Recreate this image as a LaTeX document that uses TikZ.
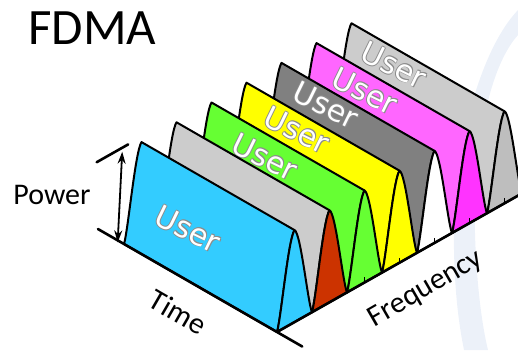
\documentclass[tikz,border=0pt]{standalone}
\usepackage{fontspec}
\setmainfont{Carlito}
\newfontfamily\tagfont{DejaVu Sans}
\usetikzlibrary{arrows.meta}

\definecolor{slabblue}{RGB}{51,204,255}
\definecolor{slabgray}{RGB}{204,204,204}
\definecolor{slabred}{RGB}{204,51,0}
\definecolor{slabgreen}{RGB}{102,255,51}
\definecolor{slabyellow}{RGB}{255,255,0}
\definecolor{slabdark}{RGB}{128,128,128}
\definecolor{slabpink}{RGB}{255,102,255}
\definecolor{slabpinkfront}{RGB}{255,51,255}
\definecolor{slabsilver}{RGB}{190,190,190}
\definecolor{swoosh}{RGB}{236,241,249}

% white lettering with a thin grey rim
\newcommand\halotag[1]{%
  \leavevmode
  \rlap{\color{black!45}\hspace{0.6pt}\raisebox{0.6pt}{#1}}%
  \rlap{\color{black!45}\hspace{-0.6pt}\raisebox{0.6pt}{#1}}%
  \rlap{\color{black!45}\hspace{0.6pt}\raisebox{-0.6pt}{#1}}%
  \rlap{\color{black!45}\hspace{-0.6pt}\raisebox{-0.6pt}{#1}}%
  {\color{white}#1}}

\tikzset{
  slabline/.style={draw=black, line width=2pt, line join=round},
  axisline/.style={line width=2.6pt, line cap=round},
  tickmark/.style={line width=1.4pt},
  usertag/.style={font=\tagfont\fontsize{30}{30}\selectfont, rotate=-26, inner sep=0pt},
  axislabel/.style={font=\fontsize{30}{30}\selectfont, inner sep=0pt},
  powertip/.tip={Stealth[length=12pt,width=8pt]},
  % oblique frame: x = frequency (one band), y = time (front to back), z = power
  iso/.style={shift={(277pt,18pt)}, x={(35pt,19.8pt)}, y={(-153pt,88pt)}, z={(0pt,1pt)}}
}

\begin{document}
\begin{tikzpicture}[x=1pt,y=1pt]
\useasboundingbox (0,0) rectangle (518,350);

% faint background swoosh
\fill[swoosh] (518,340) .. controls (480,300) and (452,200) .. (454,100)
  .. controls (455,50) and (460,20) .. (464,0) -- (488,0)
  .. controls (478,40) and (472,120) .. (476,170)
  .. controls (482,250) and (500,295) .. (518,315) -- cycle;

% one extruded band per user, drawn from the back band to the front band
\foreach \k/\side/\face/\lx/\ly in {
    6/slabgray/slabsilver/394/285,
    5/slabpink/slabpinkfront/365/259,
    4/slabdark/white/326/245,
    3/slabyellow/slabyellow/297/220,
    2/slabgreen/slabgreen/265/193,
    1/slabgray/slabred/0/0,
    0/slabblue/slabblue/188/121}{
  \begin{scope}[iso]
    % rising flank, swept along time
    \filldraw[slabline, fill=\side]
      (\k,0,0) .. controls ({\k+0.12},0,12) and ({\k+0.32},0,86) .. ({\k+0.5},0,92)
      -- ({\k+0.5},1,92)
      .. controls ({\k+0.32},1,86) and ({\k+0.12},1,12) .. (\k,1,0) -- cycle;
    % front cross-section
    \filldraw[slabline, fill=\face]
      (\k,0,0) .. controls ({\k+0.12},0,12) and ({\k+0.32},0,86) .. ({\k+0.5},0,92)
      .. controls ({\k+0.68},0,86) and ({\k+0.88},0,12) .. ({\k+1},0,0) -- cycle;
  \end{scope}
  \ifnum\k=1\relax\else
    \node[usertag] (user\k) at (\lx,\ly) {\halotag{User}};
  \fi
}

% axes
\begin{scope}[iso]
  \coordinate (tback) at (0,1.17,0);
  \coordinate (tfront) at (0,-0.165,0);
  \coordinate (forigin) at (0,0,0);
  \coordinate (fend) at (7.3,0,0);
  \coordinate (pbot) at (-0.05,1.03,0);
  \coordinate (ptop) at (0.08,1.03,88);
  \coordinate (capl) at (-0.65,1.03,92);
  \coordinate (capr) at (0.25,1.03,92);
  \foreach \k in {2,...,6}
    \draw[tickmark] ({\k+0.5},0,0) -- ++(0,0,5);
\end{scope}

\draw[axisline] (tback) -- (tfront);
\draw[axisline] (forigin) -- (fend);
\draw[axisline] (capl) -- (capr);
\draw[line width=1.8pt, powertip-powertip] (pbot) -- (ptop);

% labels
\node[font=\fontsize{51}{51}\selectfont, inner sep=0pt] (title) at (92.5,321.5) {FDMA};
\node[axislabel] (power) at (52,155) {Power};
\node[axislabel, rotate=-30] (time) at (178,38) {Time};
\node[axislabel, rotate=30] (freq) at (426,61) {Frequency};
\end{tikzpicture}
\end{document}
